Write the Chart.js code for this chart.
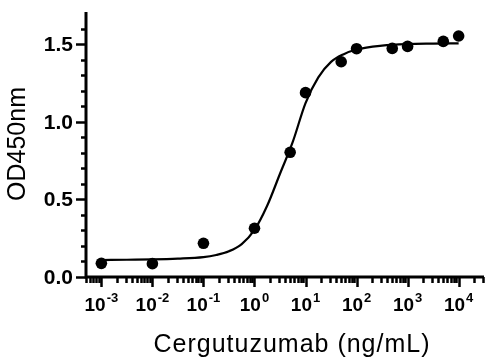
<!DOCTYPE html>
<html>
<head>
<meta charset="utf-8">
<script src="https://cdn.jsdelivr.net/npm/chart.js@4.4.1/dist/chart.umd.min.js"></script>
<style>
  html, body { margin: 0; padding: 0; background: #fff; }
  #wrap { width: 497px; height: 364px; }
</style>
</head>
<body>
<div id="wrap"><canvas id="chart"></canvas></div>
<script>
// measured points
const concentrations = [0.001, 0.01, 0.1, 1, 5, 10, 50, 100, 500, 1000, 5000, 10000];
const od450 = [0.088, 0.086, 0.217, 0.314, 0.803, 1.187, 1.386, 1.470, 1.472, 1.485, 1.517, 1.552];

// fitted curve
const fitConc = [0.001, 0.00316, 0.01, 0.0316, 0.1, 0.178, 0.316, 0.562, 1, 1.78, 3.16, 5.62, 10, 17.8, 31.6, 56.2, 100, 316, 1000, 3162, 10000];
const fitOD = [0.109, 0.111, 0.113, 0.118, 0.128, 0.142, 0.166, 0.212, 0.303, 0.46, 0.665, 0.87, 1.12, 1.285, 1.385, 1.435, 1.465, 1.49, 1.50, 1.503, 1.505];

// axis ticks
const xTickExponents = [-3, -2, -1, 0, 1, 2, 3, 4];
const yTickValues = [0, 0.5, 1.0, 1.5];
const yTickLabels = ["0.0", "0.5", "1.0", "1.5"];

const X_MIN = 5e-4, X_MAX = 3e4;
const Y_MIN = 0, Y_MAX = 1.7;

const prismAxes = {
  id: "prismAxes",
  afterDraw(chart) {
    const ctx = chart.ctx;
    const xs = chart.scales.x, ys = chart.scales.y;
    const area = chart.chartArea;
    const y0 = ys.getPixelForValue(0);
    const x0 = area.left;
    ctx.save();
    ctx.strokeStyle = "#000";
    ctx.fillStyle = "#000";
    ctx.lineCap = "butt";

    // axis lines
    ctx.lineWidth = 3;
    ctx.beginPath();
    ctx.moveTo(x0, area.top - 1);
    ctx.lineTo(x0, y0 + 1.5);
    ctx.moveTo(x0 - 1.5, y0);
    ctx.lineTo(area.right + 1, y0);
    ctx.stroke();

    // y ticks: minor every 0.1, major every 0.5
    ctx.lineWidth = 2.5;
    for (let i = 0; i <= 16; i++) {
      const v = i / 10;
      const py = Math.round(ys.getPixelForValue(v)) + 0.5;
      const major = i % 5 === 0;
      ctx.beginPath();
      ctx.moveTo(x0 - (major ? 10 : 5), py);
      ctx.lineTo(x0, py);
      ctx.stroke();
    }
    ctx.font = "bold 21px 'Liberation Sans', Arial, sans-serif";
    ctx.textAlign = "right";
    ctx.textBaseline = "middle";
    yTickValues.forEach((v, i) => {
      ctx.fillText(yTickLabels[i], 73, ys.getPixelForValue(v) + 1);
    });

    // x ticks: decades and 2..9 minors
    for (let e = -4; e <= 4; e++) {
      for (let m = 1; m <= 9; m++) {
        const v = m * Math.pow(10, e);
        if (v < X_MIN * 0.999 || v > X_MAX * 1.001) continue;
        const px = Math.round(xs.getPixelForValue(v)) + 0.5;
        ctx.beginPath();
        ctx.moveTo(px, y0);
        ctx.lineTo(px, y0 + (m === 1 ? 10 : 6));
        ctx.stroke();
      }
    }
    ctx.textAlign = "left";
    ctx.textBaseline = "alphabetic";
    const baseFont = "bold 19px 'Liberation Sans', Arial, sans-serif";
    const expFont = "bold 13px 'Liberation Sans', Arial, sans-serif";
    xTickExponents.forEach(e => {
      const px = xs.getPixelForValue(Math.pow(10, e));
      const expText = String(e);
      ctx.font = baseFont;
      const wb = ctx.measureText("10").width;
      ctx.font = expFont;
      const we = ctx.measureText(expText).width;
      const start = px - (wb + we + 1) / 2;
      ctx.font = baseFont;
      ctx.fillText("10", start, 311);
      ctx.font = expFont;
      ctx.fillText(expText, start + wb + 1, 302);
    });

    // axis titles
    ctx.font = "25px 'Liberation Sans', Arial, sans-serif";
    ctx.textAlign = "center";
    ctx.letterSpacing = "1px";
    ctx.fillText("Cergutuzumab (ng/mL)", 292, 352);
    ctx.letterSpacing = "0px";
    ctx.translate(25, 144);
    ctx.rotate(-Math.PI / 2);
    ctx.fillText("OD450nm", 0, 0);
    ctx.restore();
  }
};

new Chart(document.getElementById("chart"), {
  type: "scatter",
  data: {
    datasets: [
      {
        label: "Fit",
        data: fitConc.map((c, i) => ({ x: c, y: fitOD[i] })),
        showLine: true,
        borderColor: "#000",
        borderWidth: 2.2,
        pointRadius: 0,
        cubicInterpolationMode: "monotone",
        fill: false
      },
      {
        label: "OD450nm",
        data: concentrations.map((c, i) => ({ x: c, y: od450[i] })),
        showLine: false,
        pointRadius: 5.8,
        pointBackgroundColor: "#000",
        pointBorderColor: "#000",
        pointBorderWidth: 0
      }
    ]
  },
  options: {
    responsive: true,
    maintainAspectRatio: false,
    animation: false,
    layout: { padding: { left: 0, top: 13, right: 14, bottom: 0 } },
    plugins: { legend: { display: false }, tooltip: { enabled: false } },
    scales: {
      x: {
        type: "logarithmic",
        min: X_MIN,
        max: X_MAX,
        ticks: { display: false },
        grid: { display: false },
        border: { display: false },
        afterFit: s => { s.height = 87; }
      },
      y: {
        type: "linear",
        min: Y_MIN,
        max: Y_MAX,
        ticks: { display: false },
        grid: { display: false },
        border: { display: false },
        afterFit: s => { s.width = 86; }
      }
    }
  },
  plugins: [prismAxes]
});
</script>
</body>
</html>
